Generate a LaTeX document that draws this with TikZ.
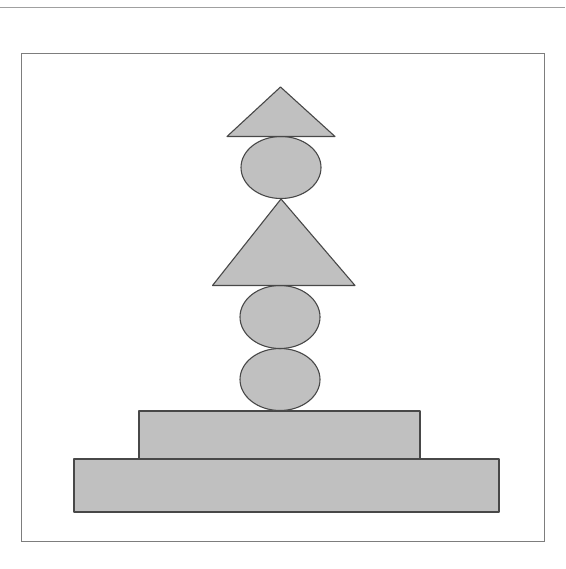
\documentclass[tikz,border=0pt]{standalone}
\definecolor{shapefill}{RGB}{192,192,192}
\definecolor{shapeline}{RGB}{72,72,72}
\definecolor{framegray}{RGB}{125,125,125}
\definecolor{rulegray}{RGB}{160,160,160}
\tikzset{
  block/.style={fill=shapefill,draw=shapeline,line width=1.1pt,line join=round},
  frameline/.style={draw=framegray,line width=1pt},
}
\begin{document}
\begin{tikzpicture}[x=1pt,y=-1pt]
  \useasboundingbox[fill=white] (0,0) rectangle (565,569);
  % top rule
  \draw[draw=rulegray,line width=1pt] (0,8) -- (565,8);
  % frame
  \draw[frameline] (21,54) rectangle (544,541);
  % base rectangles
  \draw[block] (74,459) rectangle (499,512);
  \draw[block] (139,411) rectangle (420,459);
  % ellipses
  \draw[block] (280,379.5) ellipse [x radius=40, y radius=31];
  \draw[block] (280,317) ellipse [x radius=40, y radius=31.5];
  % large triangle
  \draw[block] (281,199) -- (355,285.5) -- (212.5,285.5) -- cycle;
  % top ellipse
  \draw[block] (281,167.5) ellipse [x radius=40, y radius=31];
  % top triangle
  \draw[block] (280.5,87) -- (335,136.5) -- (227,136.5) -- cycle;
\end{tikzpicture}
\end{document}
